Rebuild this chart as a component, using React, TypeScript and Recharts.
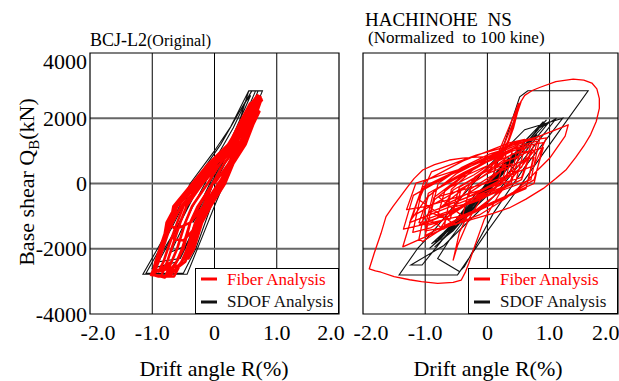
import React from 'react';
import { LineChart, Line, XAxis, YAxis, CartesianGrid, ReferenceArea, Legend } from 'recharts';

const FONT = '"Liberation Serif", "Times New Roman", Times, serif';

// axes
const xTicks = [-2, -1, 0, 1, 2];
const xTickLabels = ['-2.0', '-1.0', '0', '1.0', '2.0'];
const yTicks = [-4000, -2000, 0, 2000, 4000];
const yTickLabels = ['-4000', '-2000', '0', '2000', '4000'];
const gridX = [-1, 0, 1];
const gridY = [-2000, 0, 2000];
const leftXDomain = [-2, 2];
const rightXDomain = [-2, 2.1];
const yDomain = [-4000, 4000];

const seriesNames = ['Fiber Analysis', 'SDOF Analysis'];
const panelTitles = ['BCJ-L2', '(Original)', 'HACHINOHE  NS', '(Normalized  to 100 kine)'];
const axisTitleX = 'Drift angle R(%)';

// [drift angle %, base shear kN]
const leftSdof: [number, number][] = [
  [0, 0], [0.25, 900], [0.1, 400], [-0.2, -600], [-0.05, -100], [0.3, 1300], [0.15, 800], [-0.35, -1200], [-0.15, -600],
  [0.35, 1600], [0.55, 2840], [0.77, 2840], [0.45, 1350], [0.02, -600], [-0.2, -1650], [-0.44, -2780], [-1.15, -2780],
  [-0.75, -1450], [-0.39, 0], [-0.01, 975], [0.26, 1740], [0.55, 2840], [0.7, 2840],
  [0.4, 1400], [0.0, -400], [-0.3, -2000], [-0.5, -2750], [-1.1, -2750], [-0.7, -1400], [-0.3, 100], [0.1, 1200], [0.4, 2200], [0.6, 2840], [0.66, 2840],
  [0.4, 1700], [0.05, 300], [-0.3, -1300], [-0.6, -2400], [-1.0, -2600], [-0.65, -1500], [-0.35, -400], [0.0, 700], [0.3, 1700], [0.5, 2500], [0.58, 2700],
  [0.35, 1700], [0.0, 200], [-0.35, -1500], [-0.55, -2300], [-0.9, -2400], [-0.55, -1200], [-0.2, 100], [0.15, 1000], [0.35, 1600],
  [0.1, 500], [-0.25, -900], [-0.45, -1900], [-0.7, -2100], [-0.4, -900], [-0.1, 200], [0.1, 700], [-0.15, -300], [-0.3, -1000],
];

const leftFiber: [number, number][] = [
  [0, 0], [0.22, 600], [0.44, 1200], [0.5, 1350],
  [0.3, 1200], [0.09, 600], [-0.19, 0], [-0.54, -700], [-0.7, -1300], [-0.62, -1400],
  [-0.39, -1200], [-0.18, -700], [0.06, 0], [0.28, 600], [0.48, 1200], [0.61, 1800], [0.7, 2300], [0.73, 2450],
  [0.62, 2450], [0.45, 1800], [0.26, 1200], [-0.04, 600], [-0.28, 0], [-0.63, -700], [-0.77, -1200], [-0.84, -2000], [-0.93, -2400], [-1.0, -2800], [-0.9, -2850],
  [-0.65, -2850], [-0.53, -2400], [-0.44, -2000], [-0.31, -1200], [-0.09, -700], [0.14, 0], [0.28, 600], [0.44, 1200], [0.57, 1800], [0.7, 2450], [0.74, 2650],
  [0.69, 2700], [0.59, 2450], [0.41, 1800], [0.22, 1200], [-0.1, 600], [-0.36, 0], [-0.66, -700], [-0.71, -1200], [-0.85, -2000], [-0.92, -2400], [-1.02, -2800],
  [-0.79, -2850], [-0.61, -2400], [-0.5, -2000], [-0.39, -1200], [-0.25, -700], [-0.03, 0], [0.15, 600], [0.4, 1200], [0.53, 1800], [0.6, 2100],
  [0.5, 2050], [0.45, 1800], [0.3, 1200], [0.03, 600], [-0.19, 0], [-0.45, -700], [-0.55, -1200], [-0.65, -1700],
  [-0.5, -1750], [-0.23, -1200], [-0.09, -700], [0.14, 0], [0.28, 600], [0.48, 1200], [0.61, 1800], [0.73, 2450], [0.75, 2600],
  [0.67, 2450], [0.49, 1800], [0.35, 1200], [0.09, 600], [-0.11, 0], [-0.36, -700], [-0.47, -1200], [-0.6, -2000], [-0.69, -2400], [-0.79, -2850], [-0.72, -2850],
  [-0.53, -2400], [-0.36, -2000], [-0.23, -1200], [-0.06, -700], [0.17, 0], [0.3, 600], [0.5, 1200], [0.62, 1800], [0.72, 2200],
  [0.65, 2250], [0.53, 1800], [0.4, 1200], [0.15, 600], [-0.03, 0], [-0.18, -700], [-0.31, -1200], [-0.44, -2000], [-0.5, -2300],
  [-0.42, -2300], [-0.33, -2000], [-0.2, -1200], [-0.06, -700], [0.1, 0], [0.25, 600], [0.42, 1200], [0.5, 1500],
  [0.4, 1450], [0.3, 1200], [0.0, 600], [-0.25, 0], [-0.6, -700], [-0.74, -1200], [-0.88, -2000], [-0.95, -2400], [-0.98, -2650],
  [-0.8, -2650], [-0.69, -2400], [-0.6, -2000], [-0.47, -1200], [-0.36, -700], [-0.11, 0], [0.09, 600], [0.35, 1200], [0.49, 1800], [0.65, 2450], [0.7, 2600],
  [0.67, 2450], [0.53, 1800], [0.4, 1200], [0.15, 600], [-0.03, 0], [-0.27, -700], [-0.39, -1200], [-0.52, -2000], [-0.61, -2400], [-0.7, -2700],
  [-0.61, -2400], [-0.52, -2000], [-0.39, -1200], [-0.27, -700], [-0.03, 0], [0.15, 600], [0.4, 1200], [0.53, 1800], [0.67, 2450], [0.72, 2650],
  [0.62, 2450], [0.45, 1800], [0.3, 1200], [0.03, 600], [-0.19, 0], [-0.45, -700], [-0.55, -1200], [-0.69, -2000], [-0.76, -2400], [-0.86, -2850], [-0.8, -2880],
  [-0.47, -2400], [-0.39, -2000], [-0.25, -1200], [-0.12, -700], [0.11, 0], [0.26, 600], [0.47, 1200], [0.59, 1800], [0.72, 2450], [0.76, 2550],
  [0.57, 2450], [0.39, 1800], [0.23, 1200], [-0.08, 600], [-0.33, 0], [-0.6, -700], [-0.69, -1200], [-0.83, -2000], [-0.9, -2400], [-0.97, -2750],
  [-0.69, -2400], [-0.6, -2000], [-0.47, -1200], [-0.36, -700], [-0.11, 0], [0.09, 600], [0.35, 1200], [0.49, 1800], [0.65, 2450], [0.68, 2550],
  [0.55, 2300], [0.42, 1800], [0.27, 1200], [0.0, 600], [-0.23, 0], [-0.5, -700], [-0.6, -1200], [-0.75, -2000], [-0.82, -2400], [-0.9, -2700],
  [-0.55, -2500], [-0.45, -2100], [-0.3, -1300], [-0.15, -700], [0.08, 0], [0.22, 600], [0.45, 1300], [0.58, 1900], [0.7, 2350],
];

const rightSdof: [number, number][] = [
  [0, 0], [0.25, 600], [0.05, 100], [-0.3, -700], [-0.1, -250], [0.35, 800], [0.15, 350], [-0.45, -1100], [-0.25, -700],
  [0.5, 1000], [0.3, 600], [-0.6, -1350], [-0.4, -1000], [0.6, 1250], [0.4, 850], [-0.75, -1650], [-0.55, -1300],
  [0.7, 1400], [0.95, 1950], [0.8, 1650], [-0.1, -500], [-0.93, -1990], [-0.75, -1700], [0.2, 350], [0.9, 1750], [1.11, 2000],
  [0.9, 1500], [0.1, -400], [-0.7, -1900], [-1.23, -2500], [-1.05, -2500], [-0.5, -1200], [0.1, 300], [0.3, 1385], [0.52, 2660],
  [0.65, 2844], [1.62, 2844], [1.0, 1190], [0.5, -140], [0.0, -1460], [-0.48, -2800], [-1.42, -2805], [-1.12, -1986], [-0.9, -1527],
  [-0.5, -600], [0.0, 500], [0.6, 1650], [1.21, 2000], [0.6, 500], [0.1, -900], [-0.37, -2550], [-0.45, -2700], [-0.8, -2300],
  [-0.6, -1700], [0.0, -200], [0.6, 1300], [0.9, 1900], [0.7, 1400], [0.0, -300], [-0.6, -1500], [-0.85, -1950], [-0.65, -1600],
  [0.1, 200], [0.75, 1600], [1.0, 1900], [0.85, 1550], [0.2, 0], [-0.5, -1300], [-0.75, -1750], [-0.55, -1450], [0.3, 400],
  [0.8, 1500], [0.6, 1150], [-0.3, -900], [-0.6, -1400], [-0.4, -1050], [0.4, 700], [0.2, 350], [-0.4, -950], [-0.2, -500],
  [0.3, 500], [0.1, 150], [-0.2, -350], [-0.7, -1600], [-0.9, -1850], [-0.7, -1500], [-0.3, -700], [0.5, 1000],
  [0.3, 600], [-0.5, -1200], [-0.8, -1700], [-0.6, -1400], [0.0, -100],
];

const rightFiber: [number, number][] = [
  [0, 0], [0.3, 550], [0.4, 600], [0.35, 200], [0.05, -100], [-0.2, -350], [-0.3, -400], [-0.25, 0], [0.0, 300],
  [0.18, 440], [0.3, 500], [0.22, -40], [-0.14, -340], [-0.38, -640], [-0.5, -700], [-0.42, -160], [-0.14, 140],
  [0.3, 710], [0.5, 800], [0.38, -10], [-0.22, -460], [-0.6, -910], [-0.8, -1000], [-0.68, -190], [-0.22, 260],
  [0.36, 980], [0.6, 1100], [0.45, 20], [-0.28, -580], [-0.76, -1180], [-1.0, -1300], [-0.86, -220], [-0.28, 380],
  [0.2, 900], [0.38, 1700], [0.5, 2300], [0.55, 2550], [0.47, 2100], [0.33, 1300], [0.1, 500],
  [0.4, 910], [0.7, 1000], [0.55, 190], [-0.2, -260], [-1.0, -710], [-1.3, -800], [-1.15, 10], [-0.4, 460],
  [0.54, 1300], [0.85, 1450], [0.7, 120], [-0.33, -610], [-0.9, -1350], [-1.2, -1500], [-1.05, -170], [-0.28, 570],
  [0.5, 1200], [0.9, 1500], [1.3, 1800], [1.25, 1450], [1.0, 772], [0.62, 55], [0.3, -454], [-0.13, -965], [-0.6, -1300], [-1.36, -1940],
  [-1.23, -1119], [-0.96, -404], [-0.69, 6], [-0.39, 330], [0.48, 1140], [0.8, 1300], [0.62, -160], [-0.39, -970], [-1.04, -1780], [-1.1, -1700],
  [-0.95, -300], [-0.2, 500], [0.6, 1150], [0.9, 1250], [0.75, 0], [-0.3, -900],
  [-0.45, -1500], [-0.55, -2350], [-0.48, -1900], [-0.3, -1100], [-0.05, -300],
  [-1.25, -1200], [-1.05, -120], [-0.35, 528], [0.45, 1080], [0.75, 1200], [0.55, 120], [-0.15, -528], [-0.95, -1080],
  [-0.7, -1400], [-0.58, -185], [-0.16, 544], [0.32, 1165], [0.5, 1300], [0.38, 85], [-0.04, -644], [-0.52, -1265],
  [-1.1, -500], [-0.9, 355], [-0.18, 868], [0.64, 1305], [0.95, 1400], [0.75, 545], [0.03, 32], [-0.79, -405],
  [-0.4, -1000], [-0.29, -190], [0.12, 296], [0.58, 710], [0.75, 800], [0.64, -10], [0.23, -496], [-0.23, -910],
  [-1.35, -1400], [-1.19, -365], [-0.61, 256], [0.05, 785], [0.3, 900], [0.14, -135], [-0.44, -756], [-1.1, -1285],
  [-0.9, -800], [-0.79, 10], [-0.41, 496], [0.04, 910], [0.2, 1000], [0.09, 190], [-0.3, -296], [-0.74, -710],
  [0.1, 600], [0.3, 1500], [0.45, 2200], [0.5, 2450], [0.42, 1900], [0.25, 1100], [0.0, 300],
  [-1.2, -1000], [-1.02, 57], [-0.39, 692], [0.33, 1232], [0.6, 1350], [0.42, 292], [-0.21, -342], [-0.93, -882],
  [-0.6, -1100], [-0.45, -110], [0.08, 484], [0.68, 990], [0.9, 1100], [0.75, 110], [0.22, -484], [-0.38, -990],
  [-1.0, -1600], [-0.86, -430], [-0.37, 272], [0.19, 870], [0.4, 1000], [0.26, -170], [-0.23, -872], [-0.79, -1470],
  [-0.2, 200], [0.25, 800], [0.42, 1700], [0.52, 2450], [0.6, 2700], [0.72, 2850], [0.85, 2950], [1.1, 3120], [1.38, 3200],
  [1.55, 3170], [1.68, 3080], [1.76, 2900], [1.8, 2600], [1.8, 2300], [1.75, 1900], [1.66, 1500], [1.55, 1150], [1.42, 800],
  [1.27, 430], [1.1, 150], [0.9, -150], [0.62, -480], [0.35, -750], [0.09, -913], [-0.29, -1119], [-0.7, -1350], [-1.0, -1450],
  [-0.85, -500], [-0.4, 200], [0.3, 800], [0.7, 1150], [0.55, 500], [0.0, -300], [-0.5, -800], [-0.9, -1150], [-1.1, -1200],
  [-0.95, -400], [-0.5, 300], [0.03, 821], [-0.18, 810], [-0.4, 780], [-0.61, 720], [-0.85, 580], [-1.04, 414], [-1.18, 150],
  [-1.28, -98], [-1.4, -400], [-1.52, -711], [-1.63, -1017], [-1.71, -1527], [-1.82, -2140], [-1.9, -2620], [-1.8, -2680],
  [-1.71, -2720], [-1.5, -2857], [-1.25, -2950], [-1.06, -3010], [-0.8, -3059], [-0.55, -3030], [-0.42, -2958], [-0.35, -2700],
  [-0.3, -2450], [-0.2, -1900], [-0.05, -1100], [0.2, -300], [0.5, 400], [0.75, 1000], [0.6, 700], [0.2, 100], [-0.3, -400],
  [-0.7, -700], [-0.55, -200], [-0.1, 300], [0.3, 600], [0.1, 200],
];

const toPts = (arr: [number, number][]) => arr.map(([x, y]) => ({ x, y }));

const makeXTick = (shift: Record<string, number>) => (props: any) => {
  const { x, y, payload } = props;
  const i = xTicks.indexOf(payload.value);
  const dx = shift[String(payload.value)] ?? 0;
  return (
    <text x={x + dx} y={y} dy={16} textAnchor="middle" fontFamily={FONT} fontSize={22} fill="#000">
      {xTickLabels[i]}
    </text>
  );
};

const YTick = (props: any) => {
  const { x, y, payload } = props;
  const i = yTicks.indexOf(payload.value);
  const dy = payload.value === yTicks[yTicks.length - 1] ? 8 : 0;
  return (
    <text x={x} y={y + dy} textAnchor="end" dominantBaseline="central" fontFamily={FONT} fontSize={22} fill="#000">
      {yTickLabels[i]}
    </text>
  );
};

const makeLegend = (w: number) => (props: any) => {
  const items = [...(props.payload || [])].sort(
    (a: any, b: any) => seriesNames.indexOf(a.value) - seriesNames.indexOf(b.value)
  );
  return (
    <svg width={w} height={46} style={{ display: 'block' }}>
      <rect x={0.5} y={0.5} width={w - 1} height={45} fill="#fff" stroke="#000" strokeWidth={1} />
      {items.map((it: any, i: number) => (
        <g key={i}>
          <line x1={6} x2={22} y1={11 + i * 23} y2={11 + i * 23} stroke={it.color} strokeWidth={3} />
          <text x={32} y={17 + i * 22} fontFamily={FONT} fontSize={17} fill={it.color}>
            {it.value}
          </text>
        </g>
      ))}
    </svg>
  );
};

interface PanelProps {
  left: number;
  width: number;
  margin: { top: number; right: number; bottom: number; left: number };
  xDomain: number[];
  showY: boolean;
  fiber: [number, number][];
  sdof: [number, number][];
  fiberWidth: number;
  xShift: Record<string, number>;
  legendLeft: number;
  legendWidth: number;
}

const Panel = ({ left, width, margin, xDomain, showY, fiber, sdof, fiberWidth, xShift, legendLeft, legendWidth }: PanelProps) => (
  <div style={{ position: 'absolute', left, top: 0 }}>
    <LineChart width={width} height={381} margin={margin}>
      <CartesianGrid horizontal={false} verticalValues={gridX} stroke="#000" strokeWidth={1} />
      <CartesianGrid vertical={false} horizontalValues={gridY} stroke="#666" strokeWidth={2} />
      <XAxis
        type="number"
        dataKey="x"
        domain={xDomain}
        ticks={xTicks}
        interval={0}
        allowDataOverflow
        axisLine={false}
        tickLine={false}
        tickSize={0}
        tickMargin={10}
        height={30}
        tick={makeXTick(xShift)}
      />
      <YAxis
        type="number"
        dataKey="y"
        domain={yDomain}
        ticks={yTicks}
        interval={0}
        allowDataOverflow
        axisLine={false}
        tickLine={false}
        tickSize={0}
        tickMargin={3}
        width={80}
        hide={!showY}
        tick={YTick}
      />
      <ReferenceArea
        x1={xDomain[0]}
        x2={xDomain[1]}
        y1={yDomain[0]}
        y2={yDomain[1]}
        fill="none"
        fillOpacity={0}
        stroke="#000"
        strokeWidth={1.2}
        ifOverflow="visible"
      />
      <Line
        data={toPts(sdof)}
        dataKey="y"
        name={seriesNames[1]}
        type="linear"
        stroke="#111"
        strokeWidth={1.1}
        dot={false}
        activeDot={false}
        isAnimationActive={false}
      />
      <Line
        data={toPts(fiber)}
        dataKey="y"
        name={seriesNames[0]}
        type="linear"
        stroke="#ff0000"
        strokeWidth={fiberWidth}
        strokeLinejoin="round"
        dot={false}
        activeDot={false}
        isAnimationActive={false}
      />
      <Legend
        layout="vertical"
        align="center"
        verticalAlign="middle"
        content={makeLegend(legendWidth)}
        wrapperStyle={{ left: legendLeft, top: 268, width: legendWidth, height: 46 }}
      />
    </LineChart>
  </div>
);

export default function App() {
  return (
    <div style={{ position: 'fixed', left: 0, top: 0, width: 619, height: 381, background: '#fff', overflow: 'hidden' }}>
      <Panel
        left={0}
        width={345}
        margin={{ top: 53, right: 6, bottom: 37, left: 10 }}
        xDomain={leftXDomain}
        showY
        fiber={leftFiber}
        sdof={leftSdof}
        fiberWidth={2.6}
        xShift={{ '-2': 8, '2': -8 }}
        legendLeft={195}
        legendWidth={144}
      />
      <Panel
        left={340}
        width={279}
        margin={{ top: 53, right: 1, bottom: 37, left: 23 }}
        xDomain={rightXDomain}
        showY={false}
        fiber={rightFiber}
        sdof={rightSdof}
        fiberWidth={1.3}
        xShift={{ '-2': 8, '2': -6 }}
        legendLeft={128}
        legendWidth={150}
      />
      <svg
        width={619}
        height={381}
        style={{ position: 'absolute', left: 0, top: 0, pointerEvents: 'none' }}
        fontFamily={FONT}
      >
        <text x={90} y={46} fontSize={18} fill="#000">
          {panelTitles[0]}
          <tspan fontSize={16}>{panelTitles[1]}</tspan>
        </text>
        <text x={365} y={26} fontSize={19} fill="#000" style={{ whiteSpace: 'pre' }}>
          {panelTitles[2]}
        </text>
        <text x={368} y={43} fontSize={17} fill="#000" style={{ whiteSpace: 'pre' }}>
          {panelTitles[3]}
        </text>
        <text x={214} y={376} fontSize={22} textAnchor="middle" fill="#000">
          {axisTitleX}
        </text>
        <text x={488} y={376} fontSize={22} textAnchor="middle" fill="#000">
          {axisTitleX}
        </text>
        <text x={34} y={182} fontSize={22} textAnchor="middle" fill="#000" transform="rotate(-90 34 182)">
          Base shear Q<tspan fontSize={15} dy={5}>B</tspan>
          <tspan dy={-5}>(kN)</tspan>
        </text>
      </svg>
    </div>
  );
}
